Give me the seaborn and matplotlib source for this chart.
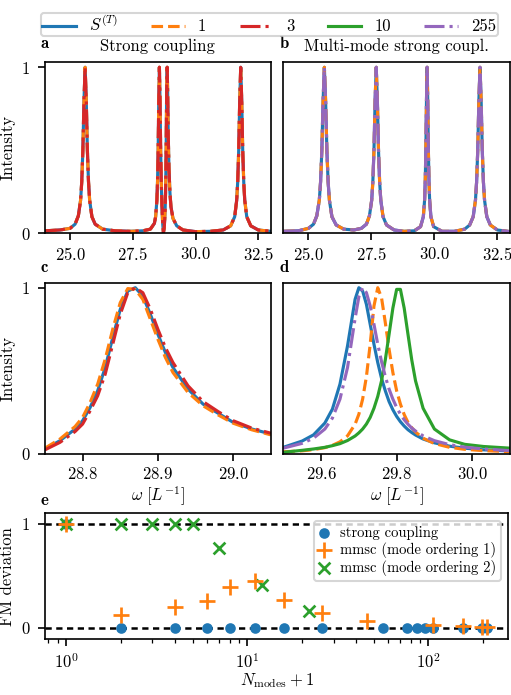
import matplotlib
matplotlib.use("Agg")
import matplotlib.pyplot as plt
import seaborn as sns

# colours / labels of the spectra
series_labels = [r"$S^{(T)}$", "1", "3", "10", "255"]
series_colors = ["#1f77b4", "#ff7f0e", "#d62728", "#2ca02c", "#9467bd"]
series_styles = ["-", "--", "-.", "-", "-."]

# panel a: strong coupling, full spectrum (S, 1 and 3 lie on top of each other)
a_x = [24.0, 24.6, 25.0, 25.2, 25.33, 25.42, 25.465, 25.51, 25.555, 25.6, 25.645, 25.69,
       25.735, 25.78, 25.87, 26.0, 26.3, 26.8, 27.4, 27.9, 28.2, 28.36, 28.41, 28.46,
       28.485, 28.51, 28.535, 28.56, 28.585, 28.61, 28.635, 28.66, 28.69, 28.72, 28.75,
       28.77, 28.79, 28.81, 28.83, 28.85, 28.87, 28.89, 28.91, 28.94, 28.98, 29.02, 29.1,
       29.25, 29.5, 30.0, 30.6, 31.1, 31.4, 31.56, 31.64, 31.68, 31.72, 31.76, 31.8,
       31.84, 31.88, 31.92, 31.96, 32.04, 32.2, 32.5, 33.0]
a_y = [0.015, 0.02, 0.03, 0.055, 0.105, 0.2, 0.31, 0.5, 0.8, 1.0, 0.8, 0.5,
       0.31, 0.2, 0.1, 0.055, 0.025, 0.015, 0.012, 0.015, 0.025, 0.06, 0.1, 0.2,
       0.31, 0.5, 0.8, 1.0, 0.8, 0.5, 0.31, 0.17, 0.06, 0.005, 0.03,
       0.08, 0.15, 0.28, 0.52, 0.87, 1.0, 0.84, 0.61, 0.39, 0.245, 0.16, 0.09,
       0.045, 0.02, 0.01, 0.012, 0.02, 0.045, 0.1, 0.2, 0.31, 0.5, 0.8, 1.0,
       0.8, 0.5, 0.31, 0.2, 0.1, 0.045, 0.02, 0.012]

# panel b: multi-mode strong coupling, full spectrum (S, 1 and 255 overlap)
b_x = [24.0, 24.6, 25.0, 25.2, 25.33, 25.43, 25.48, 25.53, 25.58, 25.63, 25.68, 25.73,
       25.78, 25.83, 25.93, 26.1, 26.4, 26.8, 27.1, 27.3, 27.42, 27.51, 27.555, 27.6,
       27.645, 27.69, 27.735, 27.78, 27.825, 27.87, 27.96, 28.1, 28.4, 28.8, 29.2,
       29.45, 29.56, 29.61, 29.635, 29.66, 29.685, 29.71, 29.735, 29.76, 29.785, 29.81,
       29.86, 29.97, 30.3, 30.8, 31.2, 31.4, 31.54, 31.63, 31.675, 31.72, 31.765, 31.81,
       31.855, 31.9, 31.945, 31.99, 32.08, 32.22, 32.5, 33.0]
b_y = [0.012, 0.015, 0.03, 0.055, 0.105, 0.2, 0.31, 0.5, 0.8, 1.0, 0.8, 0.5,
       0.31, 0.2, 0.1, 0.05, 0.025, 0.02, 0.03, 0.055, 0.105, 0.2, 0.31, 0.5,
       0.8, 1.0, 0.8, 0.5, 0.31, 0.2, 0.1, 0.05, 0.02, 0.012, 0.015,
       0.04, 0.1, 0.2, 0.31, 0.5, 0.8, 1.0, 0.8, 0.5, 0.31, 0.2,
       0.1, 0.04, 0.012, 0.012, 0.025, 0.05, 0.1, 0.2, 0.31, 0.5, 0.8, 1.0,
       0.8, 0.5, 0.31, 0.2, 0.1, 0.05, 0.02, 0.01]

# panel c: zoom on the 28.87 peak (strong coupling)
c_x = [28.75, 28.77, 28.79, 28.80, 28.81, 28.82, 28.83, 28.84, 28.85, 28.86, 28.87,
       28.88, 28.89, 28.90, 28.91, 28.92, 28.94, 28.96, 28.98, 29.0, 29.025, 29.05]
c_s = [0.03, 0.08, 0.15, 0.20, 0.28, 0.38, 0.52, 0.70, 0.87, 0.98, 1.0,
       0.95, 0.84, 0.72, 0.61, 0.52, 0.39, 0.30, 0.245, 0.19, 0.15, 0.12]
c_1 = [0.035, 0.09, 0.165, 0.22, 0.31, 0.42, 0.57, 0.75, 0.91, 0.995, 0.99,
       0.93, 0.81, 0.69, 0.58, 0.49, 0.37, 0.29, 0.235, 0.185, 0.145, 0.115]
c_3 = [0.025, 0.07, 0.135, 0.18, 0.26, 0.35, 0.48, 0.66, 0.84, 0.97, 1.0,
       0.97, 0.87, 0.75, 0.64, 0.55, 0.41, 0.315, 0.255, 0.20, 0.155, 0.125]

# panel d: zoom on the 29.71 peak (multi-mode strong coupling)
d_x = [29.50, 29.55, 29.58, 29.61, 29.63, 29.65, 29.67, 29.69, 29.70, 29.71, 29.72,
       29.73, 29.74, 29.75, 29.76, 29.77, 29.78, 29.79, 29.80, 29.81, 29.82, 29.83,
       29.84, 29.85, 29.87, 29.90, 29.94, 29.98, 30.03, 30.10]
d_s = [0.04, 0.078, 0.115, 0.186, 0.27, 0.42, 0.65, 0.93, 1.0, 0.98, 0.90,
       0.78, 0.66, 0.55, 0.455, 0.38, 0.315, 0.266, 0.226, 0.194, 0.168, 0.146,
       0.129, 0.114, 0.09, 0.067, 0.047, 0.035, 0.025, 0.018]
d_1 = [0.013, 0.019, 0.026, 0.038, 0.052, 0.073, 0.109, 0.179, 0.239, 0.33, 0.465,
       0.66, 0.89, 1.0, 0.94, 0.79, 0.63, 0.49, 0.38, 0.30, 0.237, 0.19,
       0.158, 0.132, 0.095, 0.063, 0.04, 0.028, 0.02, 0.014]
d_10 = [0.01, 0.022, 0.03, 0.04, 0.05, 0.062, 0.081, 0.108, 0.127, 0.15, 0.18,
        0.22, 0.275, 0.346, 0.44, 0.566, 0.72, 0.877, 0.99, 0.99, 0.877, 0.72,
        0.566, 0.44, 0.275, 0.15, 0.085, 0.058, 0.045, 0.035]
d_255 = [0.035, 0.064, 0.095, 0.15, 0.216, 0.33, 0.52, 0.815, 0.946, 1.0, 0.97,
         0.89, 0.78, 0.66, 0.556, 0.466, 0.39, 0.33, 0.28, 0.239, 0.206, 0.179,
         0.156, 0.138, 0.109, 0.08, 0.056, 0.041, 0.03, 0.02]

# panel e: FM deviation vs number of modes
sc_x = [1, 2, 4, 6, 8, 11, 16, 26, 56, 76, 86, 96, 106, 156, 197, 211]
sc_y = [1, 0, 0, 0, 0, 0, 0, 0, 0, 0, 0, 0, 0, 0, 0, 0]
mo1_x = [1, 2, 4, 6, 8, 11, 16, 26, 46, 106, 156, 197, 211]
mo1_y = [1.0, 0.12, 0.20, 0.26, 0.39, 0.45, 0.27, 0.14, 0.06, 0.02, 0.015, 0.01, 0.01]
mo2_x = [1, 2, 3, 4, 5, 7, 12, 22]
mo2_y = [1, 1, 1, 1, 1, 0.765, 0.41, 0.16]

plt.rcParams.update({
    "font.family": "serif",
    "font.serif": ["cmr10", "DejaVu Serif"],
    "mathtext.fontset": "cm",
    "axes.formatter.use_mathtext": True,
    "axes.unicode_minus": False,
    "font.size": 8,
})

LW = 1.5
fig = plt.figure(figsize=(511 / 150, 695 / 150), dpi=150)
ax_a = fig.add_axes([0.088, 0.6643, 0.442, 0.2461])
ax_b = fig.add_axes([0.5544, 0.6643, 0.4436, 0.2461])
ax_c = fig.add_axes([0.088, 0.3468, 0.442, 0.2464])
ax_d = fig.add_axes([0.5544, 0.3468, 0.4436, 0.2464])
ax_e = fig.add_axes([0.088, 0.0806, 0.9067, 0.1808])


def curve(ax, x, y, i):
    sns.lineplot(x=x, y=y, ax=ax, color=series_colors[i], linestyle=series_styles[i],
                 lw=LW, label=series_labels[i], legend=False)


# a
for i in [0, 1, 2]:
    curve(ax_a, a_x, a_y, i)
ax_a.set_xlim(24.0, 33.0)
ax_a.set_xticks([25.0, 27.5, 30.0, 32.5])
ax_a.set_title("Strong coupling", fontsize=8, pad=5.5)
# b
for i in [0, 1, 4]:
    curve(ax_b, b_x, b_y, i)
ax_b.set_xlim(24.0, 33.0)
ax_b.set_xticks([25.0, 27.5, 30.0, 32.5])
ax_b.set_title("Multi-mode strong coupl.", fontsize=8, pad=5.5)
# c
for i, y in zip([0, 1, 2], [c_s, c_1, c_3]):
    curve(ax_c, c_x, y, i)
ax_c.set_xlim(28.75, 29.05)
ax_c.set_xticks([28.8, 28.9, 29.0])
# d
for i, y in zip([0, 1, 3, 4], [d_s, d_1, d_10, d_255]):
    curve(ax_d, d_x, y, i)
ax_d.set_xlim(29.5, 30.1)
ax_d.set_xticks([29.6, 29.8, 30.0])

for ax in [ax_a, ax_b, ax_c, ax_d]:
    ax.set_ylim(0, 1.03)
    ax.set_xlabel("")
    ax.tick_params(axis="x", pad=2.5)
for ax in [ax_a, ax_c]:
    ax.set_yticks([0, 1])
    ax.set_ylabel("Intensity")
    ax.yaxis.set_label_coords(-0.13, 0.5)
for ax in [ax_b, ax_d]:
    ax.set_yticks([])
for ax in [ax_c, ax_d]:
    ax.set_xlabel(r"$\omega\ [L^{-1}]$", labelpad=1)

# e
sns.scatterplot(x=sc_x, y=sc_y, ax=ax_e, marker="o", s=26, color=series_colors[0],
                linewidth=0, label="strong coupling", zorder=3, legend=False)
sns.scatterplot(x=mo1_x, y=mo1_y, ax=ax_e, marker="+", s=55, color=series_colors[1],
                linewidth=1.3, label="mmsc (mode ordering 1)", zorder=5, legend=False)
sns.scatterplot(x=mo2_x, y=mo2_y, ax=ax_e, marker="x", s=32, color=series_colors[3],
                linewidth=1.3, label="mmsc (mode ordering 2)", zorder=4, legend=False)
ax_e.axhline(0, color="k", ls=(0, (2.5, 1.8)), lw=1.2, zorder=1)
ax_e.axhline(1, color="k", ls=(0, (2.5, 1.8)), lw=1.2, zorder=1)
ax_e.set_xscale("log")
ax_e.set_ylim(-0.11, 1.1)
ax_e.set_yticks([0, 1])
ax_e.set_ylabel("FM deviation")
ax_e.yaxis.set_label_coords(-0.065, 0.5)
ax_e.tick_params(axis="x", which="major", pad=3)
ax_e.set_xlabel(r"$N_\mathrm{modes}+1$", labelpad=0)
ax_e.legend(loc="upper right", fontsize=7, labelspacing=0.15, handlelength=0.6,
            handletextpad=0.8, borderpad=0.35, scatterpoints=1)

# panel letters
for ax, letter, dy in [(ax_a, "a", 7), (ax_b, "b", 7), (ax_c, "c", 5), (ax_d, "d", 5), (ax_e, "e", 4)]:
    ax.annotate(r"$\mathbf{%s}$" % letter, xy=(0, 1), xycoords="axes fraction",
                xytext=(-2.3, dy), textcoords="offset points", ha="left", va="baseline",
                fontsize=8)

# shared legend on top
h_d, l_d = ax_d.get_legend_handles_labels()
h_c, l_c = ax_c.get_legend_handles_labels()
handles = [h_d[0], h_d[1], h_c[2], h_d[2], h_d[3]]
fig.legend(handles, series_labels, loc="upper center", ncol=5,
           bbox_to_anchor=(0.527, 0.994), fontsize=8, borderpad=0.1,
           handleheight=0.5)

fig.savefig("out.png", dpi=150)
